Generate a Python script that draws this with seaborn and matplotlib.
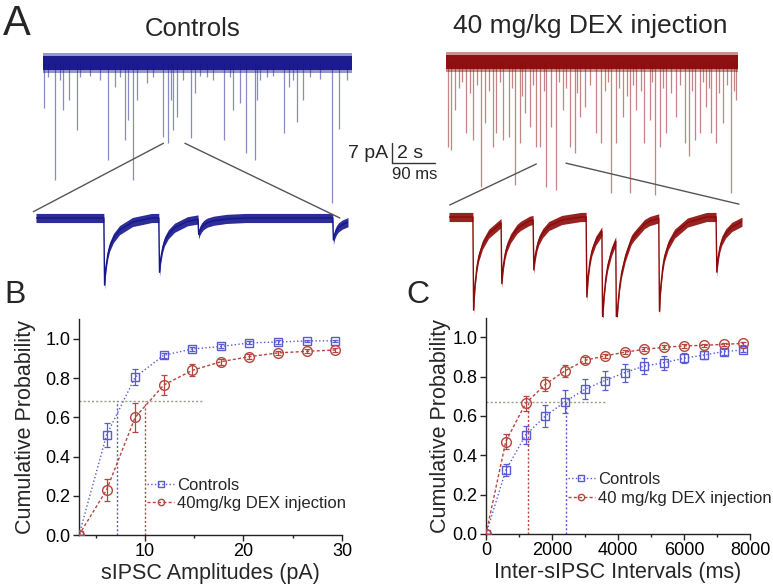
import numpy as np
import pandas as pd
import matplotlib
matplotlib.use("Agg")
import matplotlib.pyplot as plt
import seaborn as sns
from matplotlib.patches import ConnectionPatch
from matplotlib.ticker import MultipleLocator, FormatStrFormatter

# ---------------------------------------------------------------- data
# Panel B: cumulative probability of sIPSC amplitudes (pA)
amp_x = [3.3, 6.1, 9.0, 11.9, 14.8, 17.7, 20.6, 23.5, 26.4, 29.3]
amp_ctrl = [0.0, 0.51, 0.805, 0.917, 0.949, 0.962, 0.980, 0.985, 0.990, 0.991]
amp_ctrl_err = [0.0, 0.063, 0.040, 0.012, 0.010, 0.010, 0.008, 0.008, 0.006, 0.006]
amp_dex = [0.0, 0.23, 0.60, 0.765, 0.84, 0.884, 0.91, 0.929, 0.937, 0.944]
amp_dex_err = [0.0, 0.058, 0.074, 0.050, 0.030, 0.015, 0.012, 0.010, 0.010, 0.008]
amp_level = 0.685
amp_ctrl_cross = 7.2
amp_dex_cross = 10.0
amp_level_end = 15.9

# Panel C: cumulative probability of inter-sIPSC intervals (ms)
ivl_x = [0, 600, 1200, 1800, 2400, 3000, 3600, 4200, 4800, 5400, 6000, 6600, 7200, 7800]
ivl_ctrl = [0.0, 0.324, 0.503, 0.60, 0.673, 0.736, 0.78, 0.82, 0.854, 0.871, 0.893, 0.91, 0.927, 0.936]
ivl_ctrl_err = [0.0, 0.03, 0.045, 0.055, 0.057, 0.052, 0.05, 0.045, 0.04, 0.035, 0.025, 0.02, 0.015, 0.01]
ivl_dex = [0.0, 0.47, 0.664, 0.761, 0.83, 0.883, 0.905, 0.924, 0.939, 0.949, 0.956, 0.959, 0.964, 0.969]
ivl_dex_err = [0.0, 0.04, 0.04, 0.035, 0.03, 0.015, 0.012, 0.01, 0.01, 0.01, 0.008, 0.008, 0.008, 0.006]
ivl_level = 0.673
ivl_ctrl_cross = 2424
ivl_dex_cross = 1283
ivl_level_end = 3640

# Panel A: recorded events (time, amplitude in pA)
ctrl_full_t = [0.05, 0.56, 0.95, 1.22, 1.57, 3.04, 3.35, 3.81, 3.97, 4.17, 4.36, 5.60, 5.83,
               5.94, 6.06, 6.22, 6.87, 7.07, 8.43, 8.85, 9.16, 9.43, 9.86, 9.94, 11.22,
               11.44, 11.83, 12.10, 13.46, 13.78,
               0.25, 0.79, 1.72, 2.19, 2.65, 3.58, 4.82, 5.13, 6.53, 7.30, 7.61, 7.92,
               8.70, 10.09, 10.40, 10.71, 11.64, 12.42, 12.88, 14.12]
ctrl_full_amp = [15.8, 41, 16.5, 13, 23.5, 34, 8.3, 27, 20, 41, 13, 25.8, 28,
                 13, 23.5, 18.8, 26.3, 10.6, 27, 16.5, 14, 31.6, 34, 13, 24.6,
                 8.3, 20.5, 13, 49, 23,
                 5, 6, 5, 4.5, 6, 5, 7, 5, 6, 4.5, 5, 6,
                 5, 6, 5, 4.5, 6, 5, 5.5, 6]
dex_full_t = [0.09, 0.25, 0.40, 0.95, 1.26, 1.64, 1.80, 2.19, 2.34, 2.65, 2.93, 3.19, 3.43,
              3.66, 3.89, 4.20, 4.39, 4.67, 4.90, 5.10, 5.44, 5.75, 5.99, 6.22, 6.45, 6.99,
              7.22, 7.69, 7.92, 8.23, 8.54, 8.85, 9.20, 9.47, 9.71, 9.94, 10.25, 10.71,
              11.10, 11.30, 11.57, 11.80, 12.11, 12.34, 12.57, 12.88, 13.27, 13.50,
              0.60, 0.75, 1.10, 1.45, 2.00, 2.50, 3.05, 3.55, 4.05, 4.55, 5.25, 5.60,
              6.10, 6.70, 7.40, 7.55, 8.05, 8.40, 8.70, 9.05, 9.60, 10.10, 10.45, 10.90,
              11.45, 11.95, 12.25, 12.70, 13.05, 13.40, 13.70]
dex_full_amp = [29.6, 30.8, 16.8, 25, 27.3, 43.6, 21.5, 29.6, 25, 27.3, 26.1, 43, 28.5,
                18, 22.6, 29.6, 29.6, 43.6, 22.6, 44.8, 16.8, 29.6, 32, 19.1, 15.6, 25,
                28.5, 46, 28.5, 19.1, 46, 16.8, 28.5, 20.3, 46.5, 29.6, 25, 19.1,
                28.5, 33, 27.3, 25, 15.6, 25, 28.5, 21.5, 46, 13.3,
                9, 7, 11, 8, 10, 7, 9, 12, 8, 10, 7, 9,
                11, 8, 10, 7, 9, 12, 8, 10, 7, 9, 11, 8,
                10, 7, 9, 11, 8, 10, 7]
ctrl_zoom_t = [142, 257, 339, 621]          # ms
ctrl_zoom_amp = [23.5, 19.0, 5.3, 7.7]      # pA
dex_zoom_t = [50, 109, 176, 287, 320, 349, 439, 559]
dex_zoom_amp = [32.6, 21.4, 17.5, 28.0, 31.9, 32.6, 32.6, 19.3]
# averaged sIPSC waveform (ms, fraction of peak)
tmpl_ms = [0, 1.5, 4, 8, 12, 20, 33, 60, 100]
tmpl_frac = [0, 1.0, 0.75, 0.55, 0.43, 0.30, 0.18, 0.06, 0]

labels_ctrl = "Controls"
labels_dex_B = "40mg/kg DEX injection"
labels_dex_C = "40 mg/kg DEX injection"

# ---------------------------------------------------------------- style
sns.set_style("ticks")
plt.rcParams["font.family"] = ["Liberation Sans", "DejaVu Sans"]
plt.rcParams["axes.linewidth"] = 1.0

W, H = 773, 588
fig = plt.figure(figsize=(W / 100, H / 100), dpi=100)

def px_axes(left, right, top, bottom):
    return fig.add_axes([left / W, 1 - bottom / H, (right - left) / W, (bottom - top) / H])

BLUE = "#5a5ad2"
RED = "#b5463f"
NAVY = "#16168c"
DARKRED = "#8c0a0a"
GREY = "#9a9a88"

# ---------------------------------------------------------------- panel A
PX_PER_S = 43 / 2.0
PX_PER_PA = 20 / 7.0
PX_PER_MS = 43 / 90.0

def trace_axes(x0, width, base, below, above=22):
    ax = px_axes(x0, x0 + width, base - above, base + below)
    ax.set_ylim(-below / PX_PER_PA, above / PX_PER_PA)
    ax.axis("off")
    return ax

def full_trace(ax, t, amp, color, dur):
    ax.set_xlim(0, dur)
    ax.fill_between([0, dur], -3.4, 3.4, color=color, alpha=0.45, lw=0)
    ax.fill_between([0, dur], -2.3, 2.3, color=color, alpha=0.95, lw=0)
    ax.vlines(t, 0, -np.asarray(amp), color=color, lw=0.9, alpha=0.5)

def zoom_trace(ax, t_ev, amp, color, dur):
    ax.set_xlim(0, dur)
    t = np.arange(0, dur, 0.25)
    y = np.zeros_like(t)
    for te, a in zip(t_ev, amp):
        y -= a * np.interp(t - te, tmpl_ms, tmpl_frac, left=0, right=0)
    ax.fill_between(t, y - 1.6, y + 1.6, color=color, alpha=0.9, lw=0)
    ax.plot(t, y, color=color, lw=1.0)

ax_cf = trace_axes(43, 309, 63, 180)
full_trace(ax_cf, ctrl_full_t, ctrl_full_amp, NAVY, 309 / PX_PER_S)
ax_df = trace_axes(446, 292, 62, 180)
full_trace(ax_df, dex_full_t, dex_full_amp, DARKRED, 292 / PX_PER_S)
ax_cz = trace_axes(36, 312, 218, 100)
zoom_trace(ax_cz, ctrl_zoom_t, ctrl_zoom_amp, NAVY, 312 / PX_PER_MS)
ax_dz = trace_axes(449, 293, 217, 100)
zoom_trace(ax_dz, dex_zoom_t, dex_zoom_amp, DARKRED, 293 / PX_PER_MS)

for (xa, ya, xb, yb, axa, axb) in [
        (5.6, -28.1, -5.6, 2.2, ax_cf, ax_cz),
        (6.6, -28.1, 636, 0.0, ax_cf, ax_cz),
        (4.2, -35.7, 1.5, 4.2, ax_df, ax_dz),
        (5.58, -35.4, 607, 4.5, ax_df, ax_dz)]:
    con = ConnectionPatch(xyA=(xa, ya), coordsA=axa.transData,
                          xyB=(xb, yb), coordsB=axb.transData,
                          color="#555555", lw=1.0)
    fig.add_artist(con)

# scale bar (2 s / 90 ms horizontal, 7 pA vertical), drawn in control trace units
sb_t = (392 - 43) / PX_PER_S
sb_y = -35.0
ax_cf.plot([sb_t, sb_t], [sb_y, sb_y + 7], color="#333333", lw=1.0, clip_on=False)
ax_cf.plot([sb_t, sb_t + 2], [sb_y, sb_y], color="#333333", lw=1.0, clip_on=False)
ax_cf.text(sb_t - 0.18, sb_y + 3.5, "7 pA", ha="right", va="center", fontsize=14, clip_on=False)
ax_cf.text(sb_t + 0.25, sb_y + 0.4, "2 s", ha="left", va="bottom", fontsize=14, clip_on=False)
ax_cf.text(sb_t + 1.05, sb_y - 1.3, "90 ms", ha="center", va="top", fontsize=12, clip_on=False)

fig.text(193 / W, 1 - 29 / H, "Controls", ha="center", va="center", fontsize=18.5)
fig.text(590 / W, 1 - 26 / H, "40 mg/kg DEX injection", ha="center", va="center", fontsize=19)
fig.text(3 / W, 1 - 35 / H, "A", fontsize=30, va="baseline")
fig.text(4 / W, 1 - 303 / H, "B", fontsize=23, va="baseline")
fig.text(406 / W, 1 - 303 / H, "C", fontsize=23, va="baseline")

# ---------------------------------------------------------------- panels B and C
def cum_panel(ax, x, yc, ec, yd, ed, lab_d, xlim, major, minor, xlabel, level,
              c_cross, d_cross, lvl_end, leg_anchor, ylabpad):
    dfc = pd.DataFrame({"x": x, "y": yc})
    dfd = pd.DataFrame({"x": x, "y": yd})
    sns.lineplot(data=dfc, x="x", y="y", ax=ax, color=BLUE, lw=1.0, linestyle=":",
                 marker="s", markersize=6, markerfacecolor="none", markeredgecolor=BLUE,
                 markeredgewidth=1.0, label=labels_ctrl, clip_on=True, zorder=4)
    sns.lineplot(data=dfd, x="x", y="y", ax=ax, color=RED, lw=1.0, dashes=False,
                 marker="o", markersize=7, markerfacecolor="none", markeredgecolor=RED,
                 markeredgewidth=1.0, label=lab_d, clip_on=True, zorder=4)
    ax.lines[1].set_dashes([2.2, 1.6])
    ax.errorbar(x, yc, yerr=ec, fmt="none", ecolor=BLUE, elinewidth=0.9, capsize=2.2,
                capthick=0.9, zorder=3)
    ax.errorbar(x, yd, yerr=ed, fmt="none", ecolor=RED, elinewidth=0.9, capsize=2.2,
                capthick=0.9, zorder=3)
    ax.plot([xlim[0], lvl_end], [level, level], color=GREY, lw=1.0, linestyle=(0, (1.5, 1.5)))
    ax.plot([c_cross, c_cross], [0, level], color=BLUE, lw=1.0, linestyle=(0, (1.5, 1.5)))
    ax.plot([d_cross, d_cross], [0, level], color=RED, lw=1.0, linestyle=(0, (1.5, 1.5)))
    ax.set_xlim(*xlim)
    ax.set_ylim(0, 1.1)
    ax.xaxis.set_major_locator(MultipleLocator(major))
    ax.xaxis.set_minor_locator(MultipleLocator(minor))
    ax.yaxis.set_major_locator(MultipleLocator(0.2))
    ax.yaxis.set_major_formatter(FormatStrFormatter("%.1f"))
    ax.tick_params(which="major", direction="out", length=4, width=1, labelsize=13, pad=2,
                   colors="#222222", labelcolor="black")
    ax.tick_params(which="minor", direction="out", length=2.5, width=1, colors="#222222")
    sns.despine(ax=ax)
    for s in ("left", "bottom"):
        ax.spines[s].set_color("#222222")
    ax.set_xlabel(xlabel, fontsize=15.5, labelpad=2)
    ax.set_ylabel("Cumulative Probability", fontsize=15.5, labelpad=ylabpad)
    ax.legend(loc="upper left", bbox_to_anchor=leg_anchor, frameon=False,
              fontsize=12, borderaxespad=0, borderpad=0, handlelength=1.6,
              handletextpad=0.2, labelspacing=0.2, markerscale=0.65)

axB = px_axes(79, 342, 319.4, 535)
cum_panel(axB, amp_x, amp_ctrl, amp_ctrl_err, amp_dex, amp_dex_err, labels_dex_B,
          (3.3, 30), 10, 5, "sIPSC Amplitudes (pA)", amp_level,
          amp_ctrl_cross, amp_dex_cross, amp_level_end, (0.26, 0.265), 7)

axC = px_axes(486, 750, 317.6, 534)
cum_panel(axC, ivl_x, ivl_ctrl, ivl_ctrl_err, ivl_dex, ivl_dex_err, labels_dex_C,
          (0, 8000), 2000, 1000, "Inter-sIPSC Intervals (ms)", ivl_level,
          ivl_ctrl_cross, ivl_dex_cross, ivl_level_end, (0.31, 0.285), 1)

fig.savefig("out.png", dpi=100)
